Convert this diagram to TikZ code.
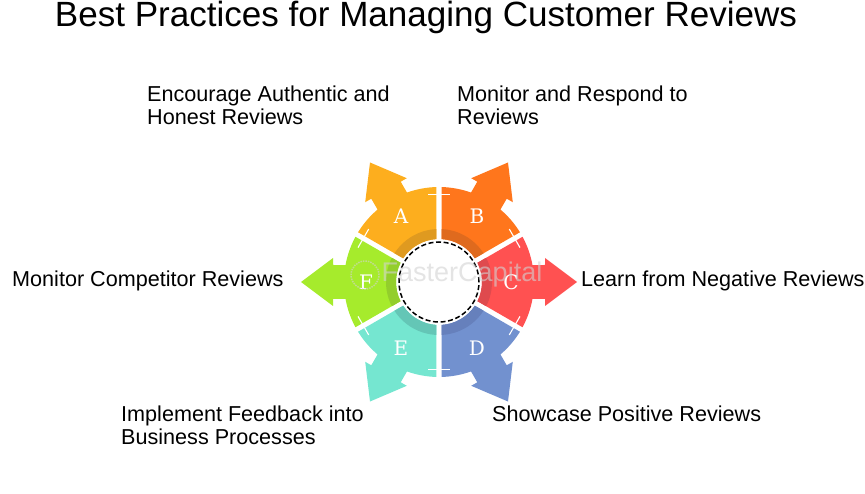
\documentclass[tikz,border=0pt]{standalone}
\usepackage{fontspec}
\setmainfont{Liberation Sans}
\newfontfamily\letterfont{DejaVu Serif}
\usetikzlibrary{calc}

\definecolor{secA}{HTML}{FDAE1E}
\definecolor{secAdark}{HTML}{DF9A20}
\definecolor{secB}{HTML}{FF761C}
\definecolor{secBdark}{HTML}{DF6A1E}
\definecolor{secC}{HTML}{FF5151}
\definecolor{secCdark}{HTML}{DF4A4E}
\definecolor{secD}{HTML}{7291CF}
\definecolor{secDdark}{HTML}{6680BC}
\definecolor{secE}{HTML}{75E6D0}
\definecolor{secEdark}{HTML}{64C6B6}
\definecolor{secF}{HTML}{A6EB2C}
\definecolor{secFdark}{HTML}{93CE2C}
\definecolor{markgray}{HTML}{D2D2D2}

\begin{document}
\begin{tikzpicture}[
		x=1pt,y=1pt,
		caption/.style={inner sep=0pt,align=left,anchor=north west,font=\fontsize{21.6}{22.3}\selectfont},
		seclabel/.style={text=white,inner sep=0pt,font=\fontsize{20}{20}\letterfont},
		]
	\useasboundingbox (0,0) rectangle (865,493);
	\coordinate (centre) at (439,211);
	\node [inner sep=0pt,font=\fontsize{35.05}{36}\selectfont] (title) at (426,476) {Best Practices for Managing Customer Reviews};

	% the six arrows round the hub
	\foreach \letter/\ang/\col/\ringcol/\letr in {A/120/secA/secAdark/76,B/60/secB/secBdark/76,C/0/secC/secCdark/72,D/-60/secD/secDdark/76,E/-120/secE/secEdark/76,F/180/secF/secFdark/73}{
		\begin{scope}[shift={(centre)},rotate=\ang]
			\fill [\col] (-26.53:43) -- (-28.43:95) arc[start angle=-28.43,end angle=-10.3,radius=95]
				-- (106,-17) -- (106,-24) -- (138,0) -- (106,24) -- (106,17) -- (10.3:95)
				arc[start angle=10.3,end angle=28.43,radius=95] -- (26.53:43)
				arc[start angle=26.53,end angle=-26.53,radius=43] -- cycle;
			\fill [\ringcol] (-26.53:43) -- (-27.19:53) arc[start angle=-27.19,end angle=27.19,radius=53]
				-- (26.53:43) arc[start angle=26.53,end angle=-26.53,radius=43] -- cycle;
			\node [seclabel] (sec\letter) at (\letr,0) {\letter};
		\end{scope}
	}
	% white ticks across the gaps
	\foreach \ang in {30,90,...,330}{
		\draw [white,line width=1.1pt] ($(centre)+(\ang-7:88)$) -- ($(centre)+(\ang+7:88)$);
	}
	\draw [black,line width=1.5pt,dash pattern=on 5pt off 2.6pt] (centre) circle [radius=40];

	\node [inner sep=0pt,text=markgray,text opacity=.6,font=\fontsize{27}{27}\selectfont] (mark) at (462,218) {FasterCapital};
	\draw [markgray,opacity=.6,densely dotted,line width=1.5pt] (365,218) circle [radius=14];

	\node [caption] (capA) at (147,407) {Encourage Authentic and\\Honest Reviews};
	\node [caption] (capB) at (457,407) {Monitor and Respond to\\Reviews};
	\node [caption] (capC) at (581,222) {Learn from Negative Reviews};
	\node [caption] (capD) at (492,87) {Showcase Positive Reviews};
	\node [caption] (capE) at (121,87) {Implement Feedback into\\Business Processes};
	\node [caption] (capF) at (12,222) {Monitor Competitor Reviews};
\end{tikzpicture}
\end{document}
